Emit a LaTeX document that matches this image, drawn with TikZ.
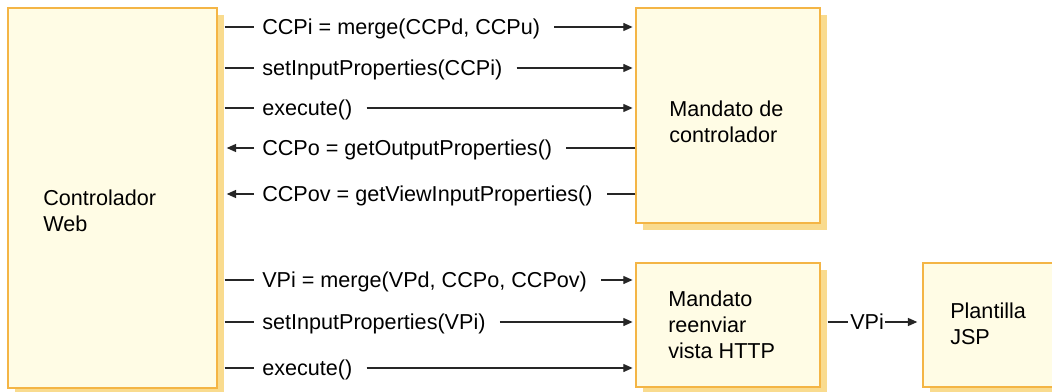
\documentclass[tikz,border=0pt]{standalone}
\usepackage{fontspec}
\setmainfont{Liberation Sans}
\usetikzlibrary{arrows.meta,fit,shadows}

\definecolor{boxfill}{HTML}{FFFCE5}
\definecolor{boxline}{HTML}{F4B545}
\definecolor{boxshade}{HTML}{F9DB8E}
\definecolor{wire}{HTML}{262626}

\tikzset{
  box/.style={draw=boxline, line width=1.1pt, fill=boxfill, inner sep=0pt,
    drop shadow={shadow xshift=5.25pt, shadow yshift=-5.25pt, fill=boxshade, opacity=1}},
  msg/.style={inner sep=0pt, text height=11.5pt, text depth=0pt, anchor=west,
    font=\fontsize{16.2}{19.5}\selectfont},
  boxtext/.style={inner sep=0pt, align=left, anchor=base west,
    font=\fontsize{16.2}{19.5}\selectfont},
  wireline/.style={draw=wire, line width=1pt},
  tip/.style={-{Triangle[length=7pt,width=6pt]}},
}

\begin{document}
\begin{tikzpicture}[x=0.75pt, y=-0.75pt]
  \clip (0,0) rectangle (1052,392);
  \fill[white] (0,0) rectangle (1052,392);

  % boxes
  \node[box, fit={(8,8) (217,388)}] (web) {};
  \node[box, fit={(636,8) (820,223)}] (cmd) {};
  \node[box, fit={(636,263) (820,387)}] (fwd) {};
  \node[box, fit={(923,263) (1075,387)}] (jsp) {};

  % box texts (anchored at the baseline of the last line)
  \node[boxtext] (webtxt) at (43,231.7) {Controlador\\Web};
  \node[boxtext] (cmdtxt) at (669,142.7) {Mandato de\\controlador};
  \node[boxtext] (fwdtxt) at (668,358.7) {Mandato\\reenviar\\vista HTTP};
  \node[boxtext] (jsptxt) at (950,344.7) {Plantilla\\JSP};

  % messages between the web controller and the controller command
  \node[msg] (m1) at (262,27)  {CCPi = merge(CCPd, CCPu)};
  \node[msg] (m2) at (262,68)  {setInputProperties(CCPi)};
  \node[msg] (m3) at (262,108) {execute()};
  \node[msg] (m4) at (262,148) {CCPo = getOutputProperties()};
  \node[msg] (m5) at (262,194) {CCPov = getViewInputProperties()};

  % messages between the web controller and the forward view command
  \node[msg] (m6) at (262,280) {VPi = merge(VPd, CCPo, CCPov)};
  \node[msg] (m7) at (262,322) {setInputProperties(VPi)};
  \node[msg] (m8) at (262,368) {execute()};

  % view parameters passed on to the JSP template
  \node[msg] (vp) at (850,322) {VPi};

  % outgoing calls
  \foreach \m/\t in {m1/cmd, m2/cmd, m3/cmd, m6/fwd, m7/fwd, m8/fwd} {
    \draw[wireline] ([xshift=5.25pt]web.east |- \m.west) -- ([xshift=-6pt]\m.west);
    \draw[wireline, tip, shorten >=2pt] ([xshift=10.5pt]\m.east) -- (\t.west |- \m.west);
  }
  % returned values
  \foreach \m in {m4, m5} {
    \draw[wireline] (cmd.west |- \m.west) -- ([xshift=10.5pt]\m.east);
    \draw[wireline, tip, shorten >=1.5pt] ([xshift=-6pt]\m.west) -- ([xshift=5.25pt]web.east |- \m.west);
  }
  \draw[wireline] ([xshift=5.25pt]fwd.east |- vp.west) -- ([xshift=-1.5pt]vp.west);
  \draw[wireline, tip, shorten >=3.75pt] ([xshift=1pt]vp.east) -- (jsp.west |- vp.west);
\end{tikzpicture}
\end{document}
